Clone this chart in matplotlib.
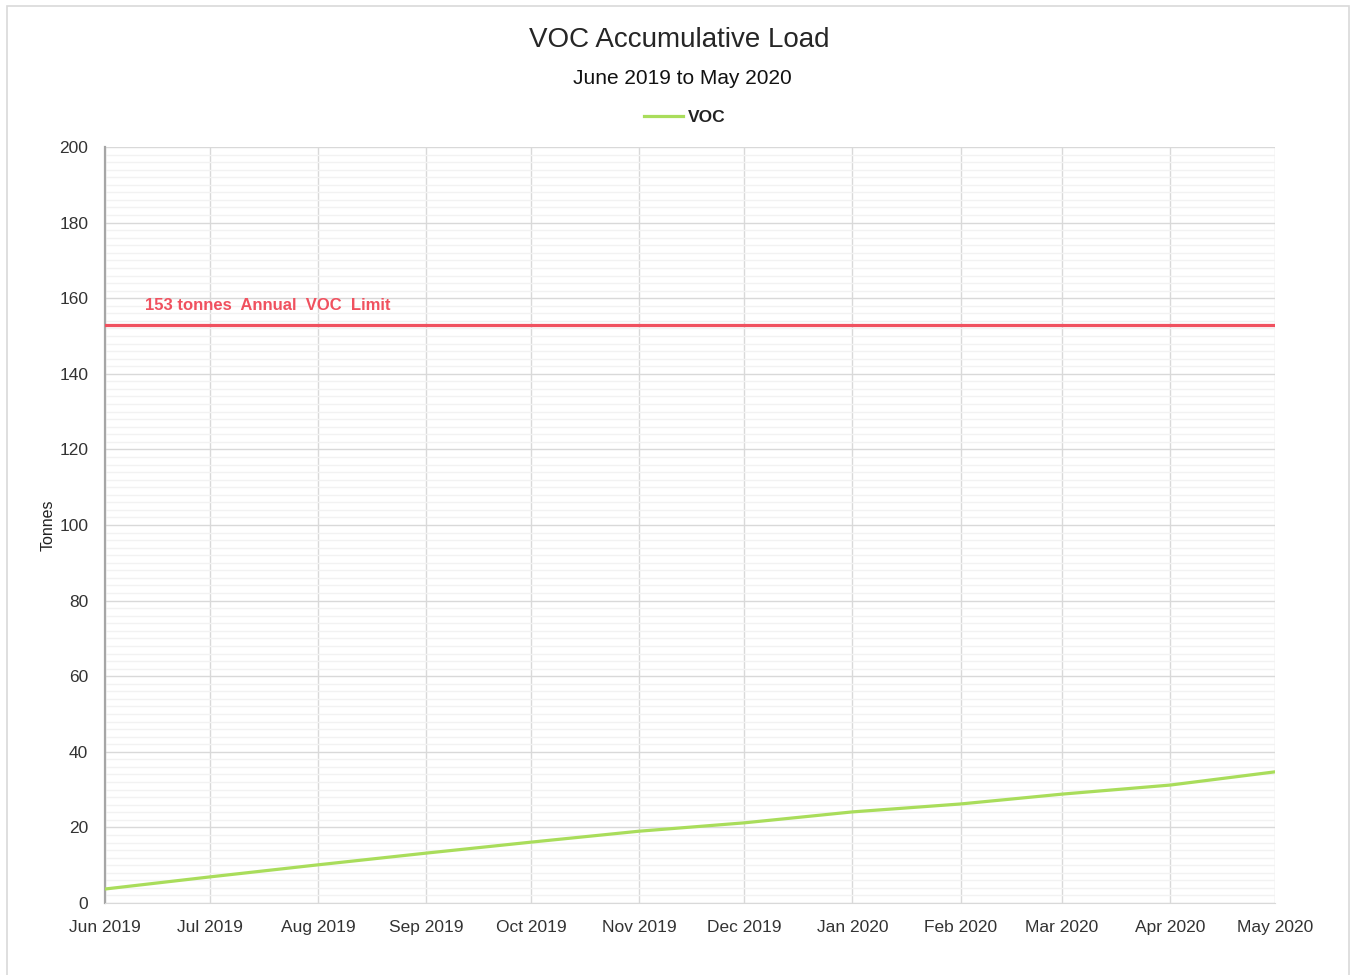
import datetime as dt
import matplotlib
matplotlib.use("Agg")
import matplotlib.pyplot as plt
import matplotlib.dates as mdates
from matplotlib.patches import Rectangle
from matplotlib.ticker import MultipleLocator

plt.rcParams['font.family'] = ['Liberation Sans', 'DejaVu Sans']

# monthly accumulated VOC load (tonnes)
months = ["2019-06", "2019-07", "2019-08", "2019-09", "2019-10", "2019-11",
          "2019-12", "2020-01", "2020-02", "2020-03", "2020-04", "2020-05"]
voc = [3.7, 6.9, 10.1, 13.2, 16.1, 19.0, 21.2, 24.1, 26.2, 28.8, 31.2, 34.7]
limit = 153
limit_label = "153 tonnes  Annual  VOC  Limit"

dates = [dt.datetime.strptime(m, "%Y-%m") for m in months]

fig = plt.figure(figsize=(13.51, 9.75), dpi=100)
fig.patches.append(Rectangle((7 / 1351, -0.01), 1342 / 1351, 1 - 6 / 975 + 0.01,
                             transform=fig.transFigure, fill=False,
                             edgecolor="#d9d9d9", linewidth=1.2))
ax = fig.add_axes([105 / 1351, 1 - 903 / 975, 1170 / 1351, 756 / 975])

ax.plot(dates, voc, color="#a9dd5b", linewidth=2.3, label="VOC", zorder=3)
ax.axhline(limit, color="#f0515f", linewidth=2.3, zorder=3)
ax.text(40 / 1170, 158.2, limit_label, transform=ax.get_yaxis_transform(),
        color="#f0515f", fontsize=12, fontweight="bold", va="center", ha="left")

ax.set_xlim(dates[0], dates[-1])
ax.set_ylim(0, 200)
ax.xaxis.set_major_locator(mdates.MonthLocator())
ax.xaxis.set_major_formatter(mdates.DateFormatter("%b %Y"))
ax.yaxis.set_major_locator(MultipleLocator(20))
ax.yaxis.set_minor_locator(MultipleLocator(2))

ax.grid(which="major", color="#d9d9d9", linewidth=1.0)
ax.grid(which="minor", axis="y", color="#f2f2f2", linewidth=1.0)
ax.set_axisbelow(True)
for s in ["top", "right"]:
    ax.spines[s].set_visible(False)
ax.spines["bottom"].set_color("#d9d9d9")
ax.spines["left"].set_color("#a6a6a6")
ax.spines["left"].set_linewidth(1.6)
ax.tick_params(which="both", length=0, labelsize=12.5, labelcolor="#333333")
ax.tick_params(axis="x", pad=12)
ax.tick_params(axis="y", pad=12)

ax.set_ylabel("Tonnes", fontsize=11.5, color="#222222", labelpad=3)

fig.text(0.503, 1 - 40 / 975, "VOC Accumulative Load", ha="center", va="center",
         fontsize=20, color="#262626")
fig.text(0.505, 1 - 78 / 975, "June 2019 to May 2020", ha="center", va="center",
         fontsize=15, color="#111111")
leg = fig.legend(loc="center", bbox_to_anchor=(0.507, 1 - 117 / 975), frameon=False,
                 handlelength=2.2, handletextpad=0.3, prop={"size": 12.5, "weight": "bold"})
for t in leg.get_texts():
    t.set_color("#222222")

fig.savefig("out.png", dpi=100, facecolor="white")
